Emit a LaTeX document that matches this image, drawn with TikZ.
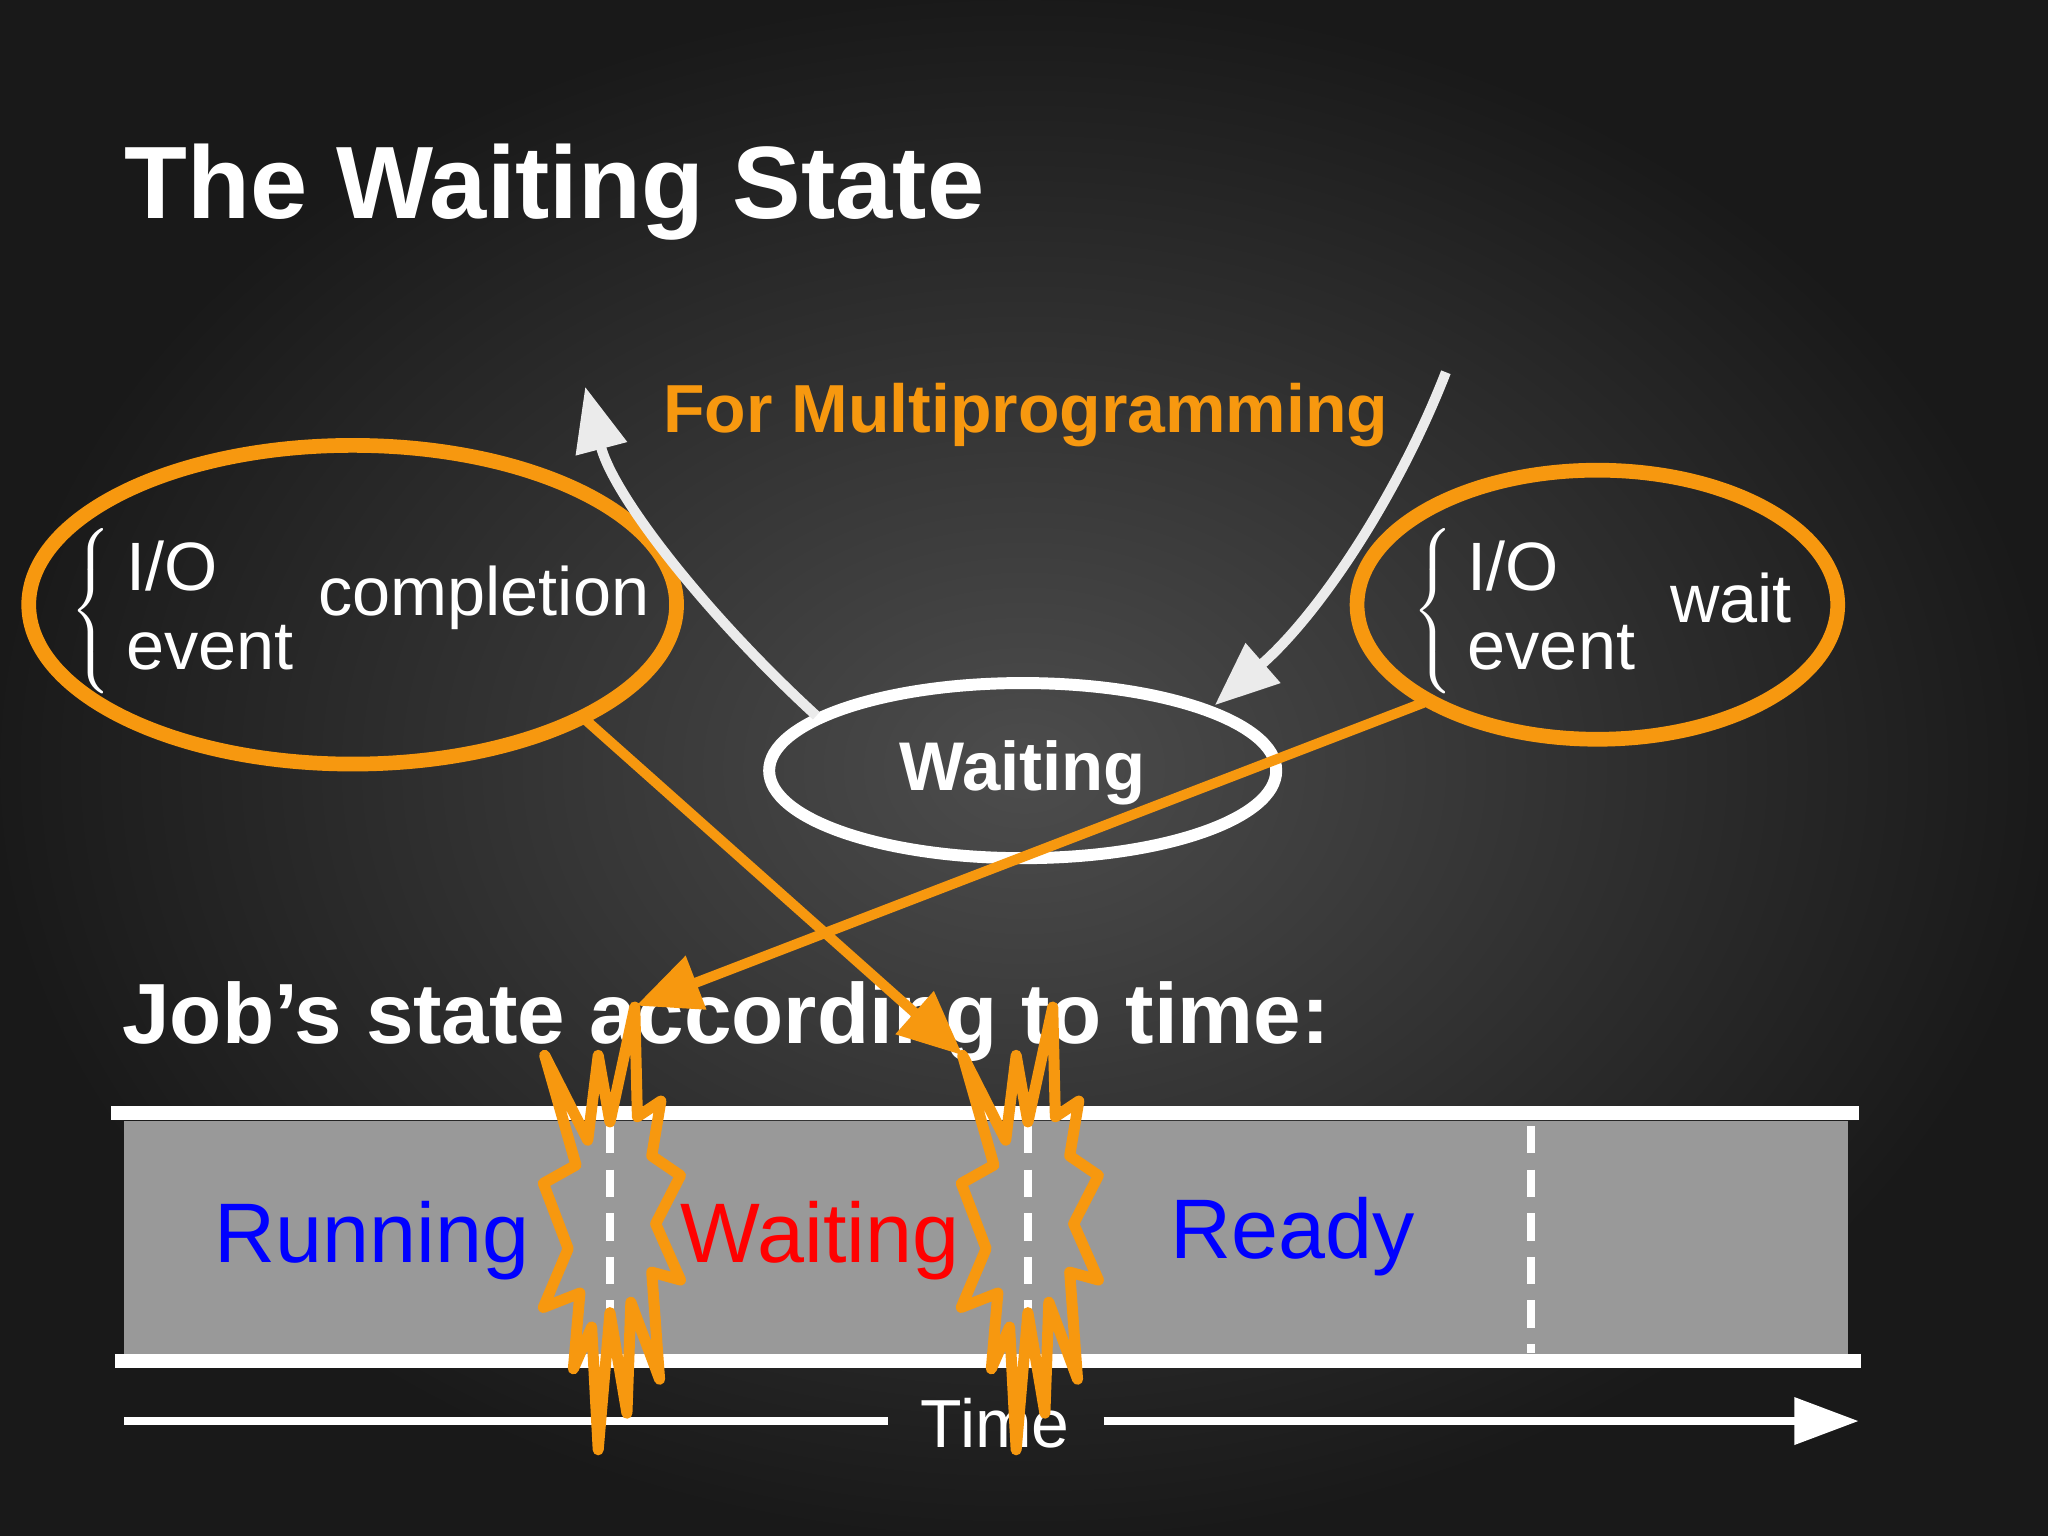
\documentclass[tikz,border=0pt]{standalone}
\usepackage{fontspec}
\setmainfont{Liberation Sans}
\usetikzlibrary{arrows.meta,shapes.geometric}
\definecolor{org}{HTML}{F7980F}
\definecolor{bandgray}{HTML}{999999}
\begin{document}
\begin{tikzpicture}[x=0.01cm,y=-0.01cm,
  ora/.style={draw=org,line width=3.2pt,line join=miter},
  burst/.style={draw=org,line width=2.4pt,line join=round},
  oarrow/.style={org,line width=2.2pt,-{Triangle[length=14pt,width=12pt]}},
  warrow/.style={white!92!black,line width=2.2pt,-{Triangle[length=14pt,width=11pt]}},
  lbl/.style={text=white,font=\fontsize{14.9}{17}\selectfont,inner sep=0pt}]
\useasboundingbox (0,0) rectangle (1568,1176);
\shade[inner color=black!70,outer color=black!90] (0,0) rectangle (1568,1176);
\node[anchor=west,inner sep=0,text=white,font=\bfseries\fontsize{22.4}{26}\selectfont] (title) at (95,147) {The Waiting State};
% ellipses
\draw[ora] (270,463) ellipse [x radius=248,y radius=122];
\draw[ora] (1223,463) ellipse [x radius=184,y radius=103];
\node[draw=white,line width=2.6pt,ellipse,minimum width=3.88cm,minimum height=1.34cm,inner sep=0] (wait) at (783,590) {};
\node[text=white,font=\bfseries\fontsize{15}{17}\selectfont] (waitlbl) at (783,592) {Waiting};
% left texts
\node[text=white,inner sep=0] (b1) at (72,465) {$\left\{\rule{0pt}{22pt}\right.$};
\node[lbl,anchor=west] (io1) at (96,433) {I/O};
\node[lbl,anchor=west] (ev1) at (96,496) {event};
\node[lbl,anchor=west] (comp) at (243,458) {completion};
\node[text=white,inner sep=0] (b2) at (1099,465) {$\left\{\rule{0pt}{22pt}\right.$};
\node[lbl,anchor=west] (io2) at (1123,433) {I/O};
\node[lbl,anchor=west] (ev2) at (1123,496) {event};
\node[lbl,anchor=west] (wt) at (1278,458) {wait};
\node[anchor=west,inner sep=0,text=org,font=\bfseries\fontsize{14.8}{17}\selectfont] (multi) at (507,318) {For Multiprogramming};
% white curves
\coordinate (c1s) at (625,548); \coordinate (c1e) at (448,296);
\draw[warrow] (c1s) .. controls (540,470) and (470,380) .. (c1e);
\coordinate (c2s) at (1107,285); \coordinate (c2e) at (930,540);
\draw[warrow] (c2s) .. controls (1070,380) and (1010,470) .. (c2e);
% job's state
\node[anchor=west,inner sep=0,text=white,font=\bfseries\fontsize{18.6}{22}\selectfont] (job) at (93,782) {Job’s state according to time:};
% band
\fill[bandgray] (95,858) rectangle (1415,1038);
\draw[white,line width=3pt] (85,852) -- (1423,852);
\draw[white,line width=3pt] (88,1042) -- (1425,1042);
\foreach \x in {467,787,1172} \draw[white,line width=1.8pt,dash pattern=on 6pt off 3.5pt] (\x,862) -- (\x,1036);
\node[text=blue,font=\fontsize{18.4}{22}\selectfont] (run) at (285,950) {Running};
\node[text=red,font=\fontsize{18.4}{22}\selectfont] (wr) at (628,950) {Waiting};
\node[text=blue,font=\fontsize{18.4}{22}\selectfont] (rd) at (990,947) {Ready};
% time
\node[text=white,font=\fontsize{14.8}{17}\selectfont] (time) at (762,1090) {Time};
\coordinate (t0) at (95,1088); \coordinate (t1) at (680,1088);
\coordinate (t2) at (845,1088); \coordinate (t3) at (1423,1088);
\draw[white,line width=1.6pt] (t0) -- (t1);
\draw[white,line width=1.6pt,-{Triangle[length=14pt,width=10pt]}] (t2) -- (t3);
% bursts
\foreach \dx in {0,320}{
\draw[burst,shift={(\dx,0)}] (417,808) -- (450,873) -- (458,808) -- (467,859) -- (486,771) -- (488,855) -- (506,843) -- (499,885) -- (521,900) -- (502,937) -- (521,980) -- (499,974) -- (505,1056) -- (483,997) -- (480,1082) -- (467,1005) -- (458,1110) -- (453,1016) -- (439,1048) -- (444,990) -- (416,1001) -- (435,956) -- (416,906) -- (441,892) -- cycle;}
% orange arrows
\coordinate (o1s) at (447,550); \coordinate (o1e) at (737,808);
\draw[oarrow] (o1s) -- (o1e);
\coordinate (o2s) at (1090,538); \coordinate (o2e) at (487,770);
\draw[oarrow] (o2s) -- (o2e);
\end{tikzpicture}
\end{document}
